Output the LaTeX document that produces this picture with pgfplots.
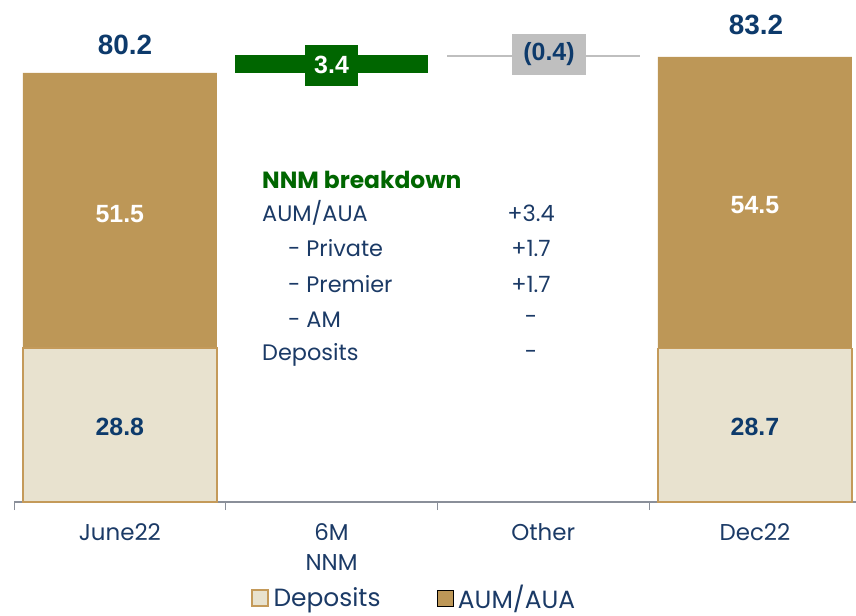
\documentclass[border=0pt]{standalone}
\usepackage{pgfplots}
\pgfplotsset{compat=1.18}
\usepackage{fontspec}
\setmainfont{Poppins}
\newfontfamily\numfont{Liberation Sans}
\definecolor{aum}{HTML}{BD9757}
\definecolor{depfill}{HTML}{E8E2CF}
\definecolor{depedge}{HTML}{C49A5A}
\definecolor{navy}{HTML}{0D3A6B}
\definecolor{labnavy}{HTML}{1B3A66}
\definecolor{nnmgreen}{HTML}{006600}
\definecolor{othgrey}{HTML}{BFBFBF}
\definecolor{axgrey}{HTML}{8A8F99}
\begin{document}
\begin{tikzpicture}
\useasboundingbox (-14bp,-114bp) rectangle (842bp,502bp);
\begin{axis}[
  at={(0,0)}, anchor=south west,
  x=211.7bp, y=5.35bp,
  xmin=-0.5, xmax=3.477, ymin=0, ymax=93.8,
  axis x line*=bottom, axis y line=none,
  xtick={-0.5,0.5,1.5,2.5}, xticklabels={,,,},
  extra x ticks={0,1,2,3},
  extra x tick labels={June22,{6M\\NNM},Other,Dec22},
  extra x tick style={major tick length=0pt},
  xticklabel style={align=center, text=labnavy, font=\fontsize{23}{30}\selectfont, yshift=-18bp},
  tick align=outside, major tick length=8bp,
  x axis line style={axgrey, line width=1.2bp},
  x tick style={axgrey, line width=1bp},
  clip=false,
  legend style={at={(axis cs:1.39,-17.9)}, anchor=center, draw=none, fill=none,
    legend columns=2, font=\fontsize{25}{25}\selectfont, text=labnavy,
    /tikz/every odd column/.append style={column sep=3bp},
    /tikz/every even column/.append style={column sep=54bp}},
  legend image code/.code={\draw[#1] (0bp,-8bp) rectangle (16bp,8bp);},
]
% end bars: total (AUM/AUA on top of deposits), then deposits over it
\addplot[ybar, bar width=194bp, bar shift=0pt, fill=aum, draw=none, forget plot]
  coordinates {(0,80.2) (3,83.2)};
\addplot[ybar, bar width=194bp, bar shift=0pt, fill=depfill, draw=depedge, line width=1.5bp, forget plot]
  coordinates {(0,28.8) (3,28.7)};
% floating bars (NNM +3.4 from 80.2, Other -0.4 from 83.6)
\addplot[fill=nnmgreen, draw=none, forget plot]
  coordinates {(0.544,80.2) (1.456,80.2) (1.456,83.6) (0.544,83.6)} -- cycle;
\addplot[fill=othgrey, draw=none, forget plot]
  coordinates {(1.545,83.2) (2.457,83.2) (2.457,83.6) (1.545,83.6)} -- cycle;
% legend
\addlegendimage{fill=depfill, draw=depedge, line width=1.5bp}
\addlegendentry{Deposits}
\addlegendimage{fill=aum, draw=none}
\addlegendentry{AUM/AUA}
% value labels
\node[font=\numfont\bfseries\fontsize{28}{28}\selectfont, text=navy] at (axis cs:0.024,85.4) {80.2};
\node[font=\numfont\bfseries\fontsize{28}{28}\selectfont, text=navy] at (axis cs:3.005,89.2) {83.2};
\node[font=\numfont\bfseries\fontsize{25}{25}\selectfont, text=white] at (axis cs:0,53.8) {51.5};
\node[font=\numfont\bfseries\fontsize{25}{25}\selectfont, text=navy] at (axis cs:0,14.0) {28.8};
\node[font=\numfont\bfseries\fontsize{25}{25}\selectfont, text=white] at (axis cs:3,55.5) {54.5};
\node[font=\numfont\bfseries\fontsize{25}{25}\selectfont, text=navy] at (axis cs:3,14.0) {28.7};
\node[fill=nnmgreen, minimum width=53bp, minimum height=41bp, inner sep=0pt,
  font=\numfont\bfseries\fontsize{25}{25}\selectfont, text=white] at (axis cs:1.0,81.6) {3.4};
\node[fill=othgrey, minimum width=74bp, minimum height=41bp, inner sep=0pt,
  font=\numfont\bfseries\fontsize{25}{25}\selectfont, text=navy] at (axis cs:2.027,83.64) {(0.4)};
% NNM breakdown text
\node[anchor=west, inner sep=0pt, font=\bfseries\fontsize{23.5}{23.5}\selectfont, text=nnmgreen] at (axis cs:0.6715,60.19) {NNM breakdown};
\begin{scope}[every node/.style={inner sep=0pt, font=\fontsize{22.5}{22.5}\selectfont, text=labnavy}]
\node[anchor=west] at (axis cs:0.6715,54.02) {AUM/AUA};
\node[anchor=west] at (axis cs:0.794,47.48) {- Private};
\node[anchor=west] at (axis cs:0.794,40.75) {- Premier};
\node[anchor=west] at (axis cs:0.794,34.02) {- AM};
\node[anchor=west] at (axis cs:0.6715,27.48) {Deposits};
\node at (axis cs:1.942,54.02) {+3.4};
\node at (axis cs:1.942,47.48) {+1.7};
\node at (axis cs:1.942,40.75) {+1.7};
\node at (axis cs:1.942,34.02) {-};
\node at (axis cs:1.942,27.48) {-};
\end{scope}
\end{axis}
\end{tikzpicture}
\end{document}
